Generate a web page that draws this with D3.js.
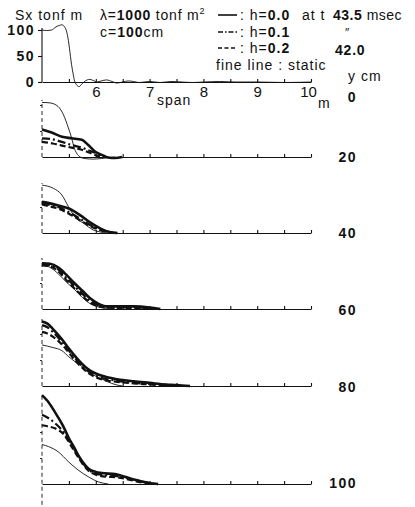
<!DOCTYPE html>
<html><head><meta charset="utf-8">
<script src="https://cdn.jsdelivr.net/npm/d3@7"></script>
<style>
body{margin:0;background:#fff;}
svg{display:block;font-family:"Liberation Sans",Arial,sans-serif;}
</style></head><body>
<svg id="c" width="415" height="507"></svg>
<script>
// ---- data (span m, Sx tonf·m) ----
const topStatic = [[5.0,100],[5.08,99],[5.18,100],[5.26,106],[5.33,109],[5.37,110],[5.42,106],[5.46,96],[5.49,80],[5.51,65],[5.55,33],[5.58,15],[5.6,4],[5.64,-5],[5.69,-9],[5.73,-5],[5.78,0],[5.84,4],[5.89,5],[5.95,3],[6.02,0],[6.1,2],[6.2,4],[6.3,1],[6.39,-2],[6.5,0],[6.6,2],[6.7,1],[6.8,-1],[6.9,0],[7.0,1],[7.1,0],[7.2,-1],[7.4,1],[7.6,0],[7.8,-1],[8.0,0],[8.3,1],[8.6,0],[9.0,0],[9.5,-1],[10,0]];

const yLabels = ["0","20","40","60","80","100"];
const xTickLabels = [6,7,8,9,10];

// panel y = 0 cm
const p1Static = [[5.0,105],[5.15,104],[5.3,97],[5.4,81],[5.49,56],[5.55,37],[5.6,17],[5.64,8],[5.71,0],[5.8,-3],[5.95,-4],[6.1,-3],[6.25,-1],[6.36,0]];
const p1H0 = [[5.0,53],[5.18,47],[5.37,39],[5.55,36],[5.74,33],[5.86,23],[5.99,10],[6.11,4],[6.23,-1],[6.36,-2],[6.49,0]];
const p1H1 = [[5.0,36],[5.15,35],[5.37,29],[5.55,23],[5.74,18],[5.86,13],[5.99,8],[6.1,2],[6.2,0]];
const p1H2 = [[5.0,29],[5.2,26],[5.37,22],[5.55,18],[5.74,14],[5.89,8],[6.04,2],[6.15,0]];
// panel y = 20 cm
const p2Static = [[5.0,92],[5.21,86],[5.37,73],[5.49,51],[5.61,31],[5.77,19],[5.95,6],[6.08,2],[6.2,0]];
const p2H0 = [[5.0,60],[5.15,57],[5.3,53],[5.5,47],[5.7,35],[5.9,20],[6.1,8],[6.25,2],[6.4,0]];
const p2H1 = [[5.0,58],[5.15,54],[5.3,50],[5.5,40],[5.7,28],[5.9,15],[6.1,6],[6.3,1],[6.4,0]];
const p2H2 = [[5.0,55],[5.15,51],[5.3,47],[5.5,37],[5.7,25],[5.9,13],[6.1,5],[6.3,1],[6.35,0]];
// panel y = 40 cm
const p3Static = [[5.0,84],[5.15,80],[5.3,68],[5.45,52],[5.6,38],[5.75,22],[5.9,10],[6.05,4],[6.2,1],[6.36,0]];
const p3H0 = [[5.0,88],[5.15,87],[5.3,80],[5.45,66],[5.6,50],[5.75,35],[5.9,20],[6.05,10],[6.2,5],[6.4,5],[6.7,5],[7.0,3],[7.2,0]];
const p3H1 = [[5.0,86],[5.15,84],[5.3,76],[5.45,60],[5.6,44],[5.75,29],[5.9,15],[6.05,7],[6.2,4],[6.5,3],[6.8,3],[7.0,1],[7.1,0]];
const p3H2 = [[5.0,84],[5.15,82],[5.3,73],[5.45,56],[5.6,40],[5.75,25],[5.9,12],[6.05,5],[6.2,3],[6.5,2],[6.8,2],[7.0,0]];
// panel y = 60 cm
const p4Static = [[5.0,79],[5.2,74],[5.37,68],[5.5,56],[5.61,47],[5.75,37],[5.86,27],[6.0,19],[6.08,15],[6.2,9],[6.39,2],[6.5,0]];
const p4H0 = [[5.0,124],[5.1,120],[5.2,110],[5.37,90],[5.5,72],[5.61,58],[5.75,42],[5.86,32],[6.0,24],[6.1,20],[6.4,13],[6.7,9],[7.0,6],[7.3,3],[7.5,2],[7.75,0]];
const p4H1 = [[5.0,117],[5.1,113],[5.2,104],[5.37,85],[5.5,68],[5.61,54],[5.75,38],[5.86,28],[6.0,20],[6.1,16],[6.4,10],[6.7,6],[7.0,4],[7.3,2],[7.6,0]];
const p4H2 = [[5.0,104],[5.1,101],[5.2,95],[5.37,80],[5.5,64],[5.61,50],[5.75,35],[5.86,25],[6.0,17],[6.1,13],[6.4,8],[6.7,5],[7.0,3],[7.4,0]];
// panel y = 80 cm
const p5Static = [[5.0,76],[5.12,72],[5.3,62],[5.49,43],[5.67,27],[5.86,14],[6.05,4],[6.23,0]];
const p5H0 = [[5.0,171],[5.1,160],[5.2,145],[5.3,128],[5.4,110],[5.5,88],[5.6,70],[5.67,56],[5.76,42],[5.86,30],[6.0,23],[6.11,21],[6.36,19],[6.54,14],[6.73,8],[6.98,2],[7.16,0]];
const p5H1 = [[5.0,133],[5.1,128],[5.24,117],[5.4,100],[5.55,75],[5.67,55],[5.76,40],[5.86,28],[6.0,20],[6.2,17],[6.4,15],[6.6,11],[6.8,6],[7.0,2],[7.1,0]];
const p5H2 = [[5.0,113],[5.1,111],[5.24,107],[5.4,96],[5.55,72],[5.67,52],[5.76,38],[5.86,26],[6.0,18],[6.2,14],[6.4,13],[6.6,9],[6.8,4],[7.0,1],[7.05,0]];

// ---- layout ----
const svg = d3.select("#c");
const x = d3.scaleLinear().domain([5,10]).range([42,311]);
const PX_PER_UNIT = 0.52;
const lineStyles = {
  static:{w:0.9, dash:null},
  h0:{w:2.6, dash:null},
  h1:{w:2.2, dash:"8,3,2,3"},
  h2:{w:2.2, dash:"6,3"}
};
const panels = [
  {base:157, top:110, bottom:0, labelY:157, series:{static:p1Static,h0:p1H0,h1:p1H1,h2:p1H2}},
  {base:233, top:96, bottom:0, labelY:233, series:{static:p2Static,h0:p2H0,h1:p2H1,h2:p2H2}},
  {base:309, top:98, bottom:0, labelY:310, series:{static:p3Static,h0:p3H0,h1:p3H1,h2:p3H2}},
  {base:386, top:131, bottom:0, labelY:387, series:{static:p4Static,h0:p4H0,h1:p4H1,h2:p4H2}},
  {base:484, top:171, bottom:-40, labelY:483, series:{static:p5Static,h0:p5H0,h1:p5H1,h2:p5H2}}
];
const ink = "#111";
const FONT = "Liberation Sans, Arial, sans-serif";
const ticksHalf = d3.range(5.5, 10.01, 0.5);

// ---- top panel ----
const yTop = d3.scaleLinear().domain([0,100]).range([82, 82-100*PX_PER_UNIT]);
const lineTop = d3.line().x(d=>x(d[0])).y(d=>yTop(d[1])).curve(d3.curveMonotoneX);
const gx = svg.append("g").attr("transform","translate(0,82)")
  .call(d3.axisBottom(x).tickValues(ticksHalf).tickSize(-3).tickSizeOuter(0).tickPadding(4)
    .tickFormat(d=> xTickLabels.includes(d) ? d : ""));
gx.selectAll("text").attr("font-size",15).attr("fill",ink).attr("font-family",FONT);
gx.selectAll(".tick text").filter(d=>d===10).attr("dx",-3);
gx.selectAll("line,path").attr("stroke",ink).attr("stroke-width",1.1);
const gy = svg.append("g").attr("transform","translate(42,0)")
  .call(d3.axisLeft(yTop).tickValues([0,50,100]).tickSize(4).tickSizeOuter(0).tickPadding(3).tickFormat(d3.format("d")));
gy.select(".domain").attr("d", `M0,${yTop(0)}V${yTop(104)}`);
gy.selectAll("text").attr("font-size",14).attr("font-weight","bold").attr("fill",ink)
  .attr("font-family",FONT).attr("letter-spacing",1.5);
gy.selectAll("line,path").attr("stroke",ink).attr("stroke-width",1.1);
svg.append("path").datum(topStatic).attr("d",lineTop).attr("fill","none").attr("stroke",ink).attr("stroke-width",0.9);

// ---- lower panels ----
panels.forEach(p=>{
  const y = d3.scaleLinear().domain([0,100]).range([p.base, p.base-100*PX_PER_UNIT]);
  const ax = svg.append("g").attr("transform",`translate(0,${p.base})`)
    .call(d3.axisBottom(x).tickValues(ticksHalf).tickSize(-3).tickSizeOuter(0).tickFormat(""));
  ax.selectAll("line,path").attr("stroke",ink).attr("stroke-width",1.1);
  const ay = svg.append("g").attr("transform","translate(42,0)")
    .call(d3.axisLeft(y).tickValues([50,100].filter(v=>v<=p.top)).tickSize(2).tickSizeOuter(0).tickFormat(""));
  ay.select(".domain").attr("d",`M0,${y(p.bottom)}V${y(p.top)}`).attr("stroke-dasharray","4,3");
  ay.selectAll("line,path").attr("stroke",ink).attr("stroke-width",0.9);
  const ln = d3.line().x(d=>x(d[0])).y(d=>y(d[1])).curve(d3.curveMonotoneX);
  ["static","h2","h1","h0"].forEach(k=>{
    const st = lineStyles[k];
    svg.append("path").datum(p.series[k]).attr("d",ln).attr("fill","none")
      .attr("stroke",ink).attr("stroke-width",st.w).attr("stroke-dasharray",st.dash)
      .attr("stroke-linejoin","round");
  });
});

// ---- texts ----
function txt(xp, yp, parts, size, anchor, ls){
  const t = svg.append("text").attr("x",xp).attr("y",yp).attr("font-size",size||14).attr("fill",ink)
    .attr("text-anchor",anchor||"start").attr("letter-spacing", ls==null?1:ls);
  parts.forEach(pt=>{
    const s = t.append("tspan").text(pt[0]);
    if(pt[1]==="b") s.attr("font-weight","bold");
    if(pt[1]==="sup") s.attr("font-size",9).attr("dy",-6);
  });
  return t;
}
txt(15,20,[["Sx  tonf m"]]);
txt(100,20,[["λ="],["1000","b"],[" tonf m"],["2","sup"]],14,"start",0.8);
txt(100,37,[["c="],["100","b"],["cm"]],14,"start",1);
// legend samples
const legendRows = [{k:"h0",y:15},{k:"h1",y:32},{k:"h2",y:48}];
legendRows.forEach(r=>{
  svg.append("line").attr("x1",218).attr("x2",237).attr("y1",r.y).attr("y2",r.y)
    .attr("stroke",ink).attr("stroke-width",1.6).attr("stroke-dasharray", r.k==="h1"?"5,2,1.5,2":(r.k==="h2"?"4,2.5":null));
});
txt(240,20,[[": h="],["0.0","b"]],14,"start",1);
txt(302,20,[["at t"]],14,"start",1);
txt(333,20,[["43.5","b"],[" msec"]],14,"start",0.5);
txt(240,37,[[": h="],["0.1","b"]],14,"start",1);
txt(345,37,[["\u2033"]],12,"start",0);
txt(240,53,[[": h="],["0.2","b"]],14,"start",1);
txt(335,55,[["42.0","b"]],14,"start",0.8);
txt(216,70,[["fine line : static"]],14,"start",1);
txt(157,105,[["span"]],14,"start",1);
txt(318,108,[["m"]],14,"start",0);
txt(348,81,[["y cm"]],14,"start",1);
yLabels.forEach((lab,i)=>{
  const yy = i===0 ? 97 : panels[i-1].labelY;
  txt(357, yy+5, [[lab,"b"]], 14, "end", 1.5);
});
</script>
</body></html>
